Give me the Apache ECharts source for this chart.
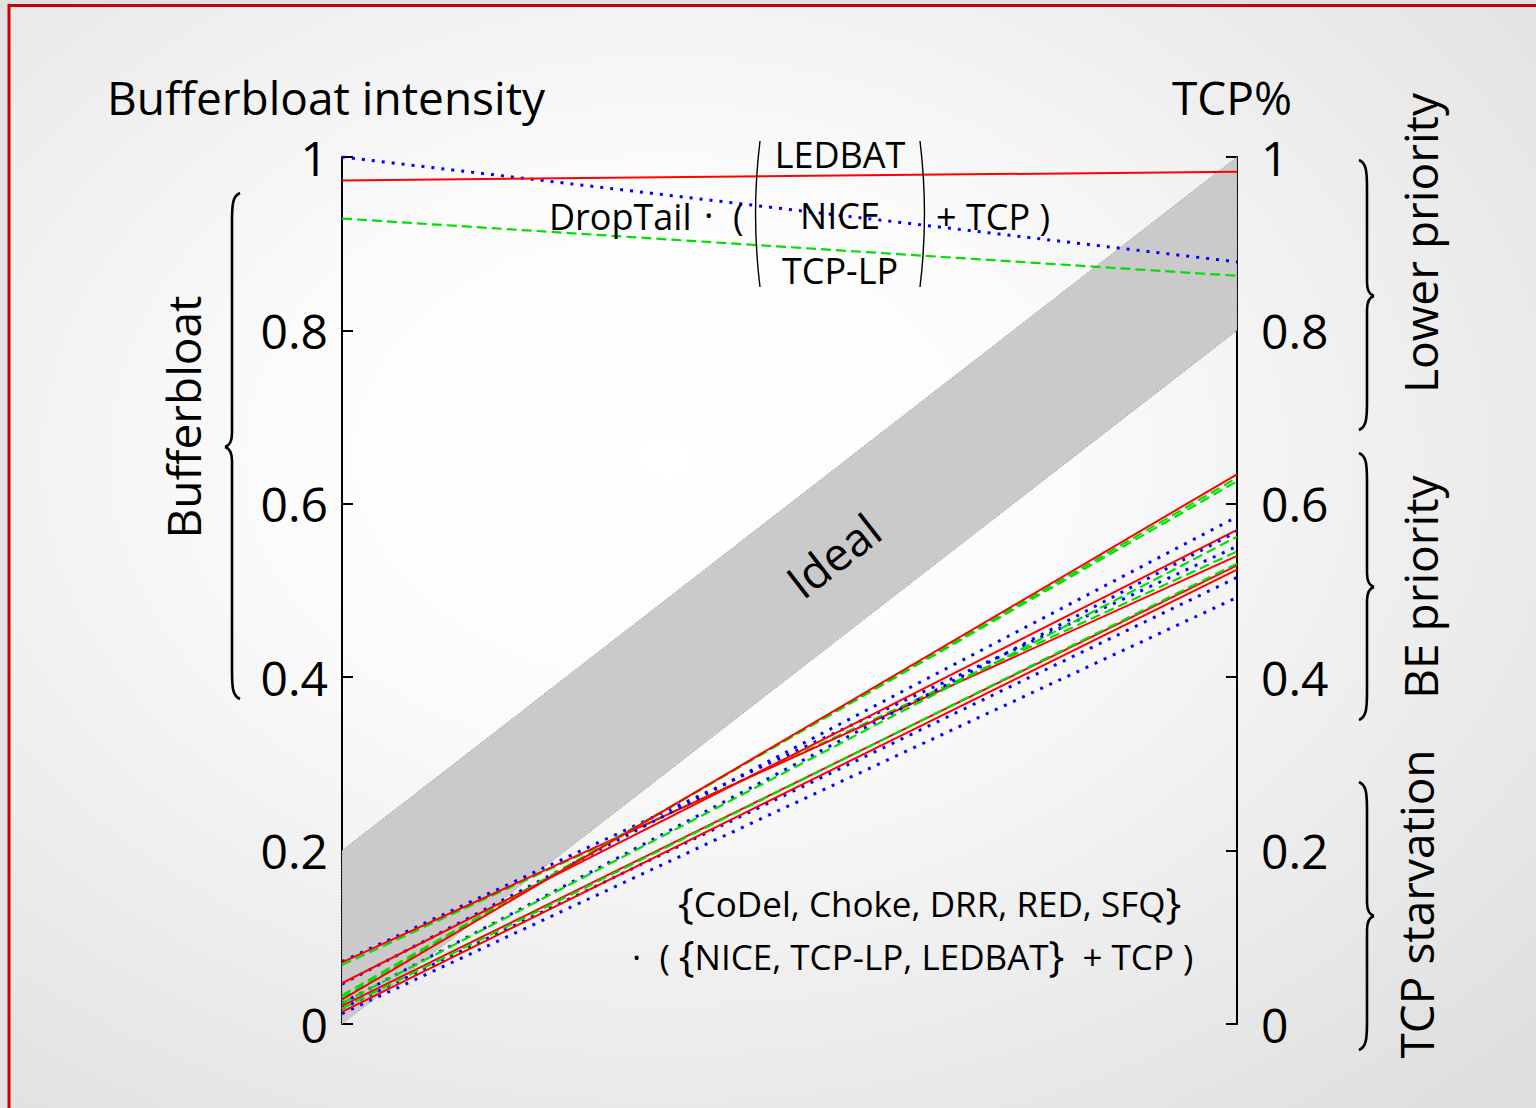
<!DOCTYPE html>
<html><head><meta charset="utf-8">
<script src="https://cdn.jsdelivr.net/npm/echarts@6/dist/echarts.min.js"></script>
<style>html,body{margin:0;padding:0;background:#e2e2e2}#c{width:1536px;height:1108px}</style>
</head><body><div id="c"></div>
<script>
// ---- data ----
const axisTicks = [0, 0.2, 0.4, 0.6, 0.8, 1];
const tickLabels = ['0', '0.2', '0.4', '0.6', '0.8', '1'];
// DropTail lines: red, blue, green
const dropRedLeft = 0.973, dropRedRight = 0.983;
const dropBlueLeft = 1.0, dropBlueRight = 0.879;
const dropGreenLeft = 0.929, dropGreenRight = 0.863;
// AQM lines (left value = bufferbloat intensity, right value = TCP%)
const redLeft = [0.071, 0.047, 0.028, 0.021, 0.014];
const redRight = [0.540, 0.570, 0.634, 0.529, 0.524];
const greenLeft = [0.068, 0.033, 0.030, 0.024, 0.018];
const greenRight = [0.545, 0.626, 0.630, 0.562, 0.531];
const blueLeft = [0.072, 0.046, 0.024, 0.018, 0.012];
const blueRight = [0.551, 0.585, 0.568, 0.515, 0.492];
// Ideal band
const bandLower = [0, 0.8];
const bandUpper = [0.2, 1.0];

// ---- styles ----
const FONT = '"Open Sans", "Noto Sans", sans-serif';
const styles = {
  red: { color: '#ff0000', width: 2, type: 'solid' },
  green: { color: '#00e000', width: 2.2, type: [10, 5] },
  blue: { color: '#0000ff', width: 3, type: [3, 7] }
};

const series = [];
series.push({
  type: 'custom', z: 1, silent: true, data: [[0, 0]],
  renderItem: (params, api) => {
    const pts = [api.coord([0, bandLower[0]]), api.coord([0, bandUpper[0]]),
                 api.coord([1, bandUpper[1]]), api.coord([1, bandLower[1]])];
    return { type: 'polygon', shape: { points: pts },
      style: { fill: '#cacaca', stroke: '#8a8a8a', lineWidth: 1, lineDash: [1, 2] } };
  }
});
function addLine(l, r, st) {
  series.push({ type: 'line', data: [[0, l], [1, r]], showSymbol: false, silent: true,
    lineStyle: st, z: 3, animation: false });
}
for (let i = 0; i < redLeft.length; i++) {
  addLine(blueLeft[i], blueRight[i], styles.blue);
  addLine(greenLeft[i], greenRight[i], styles.green);
  addLine(redLeft[i], redRight[i], styles.red);
}
addLine(dropBlueLeft, dropBlueRight, styles.blue);
addLine(dropGreenLeft, dropGreenRight, styles.green);
addLine(dropRedLeft, dropRedRight, styles.red);

function yAxis(pos, margin) {
  return {
    type: 'value', position: pos, min: 0, max: 1, interval: 0.2,
    axisLine: { show: true, lineStyle: { color: '#000', width: 2 } },
    axisTick: { show: true, inside: true, length: 11, lineStyle: { color: '#000', width: 2 } },
    splitLine: { show: false },
    axisLabel: { fontSize: 48, color: '#000', fontFamily: FONT, margin: margin,
      formatter: v => tickLabels[Math.round(v * 5)] }
  };
}

// ---- text helpers ----
const mctx = document.createElement('canvas').getContext('2d');
function tw(t, size) { mctx.font = size + 'px ' + FONT; return mctx.measureText(t).width; }
function txt(t, x, y, size, align, rot, lh) {
  const o = { type: 'text', x: x, y: y, z: 20, silent: true,
    style: { text: t, fontSize: size, fontFamily: FONT, fill: '#000',
      textAlign: align || 'left', verticalAlign: 'middle' } };
  if (lh) o.style.lineHeight = lh;
  if (rot) o.rotation = rot;
  return o;
}
function segLine(segs, x0, y) {
  const out = []; let x = x0;
  segs.forEach(s => { out.push(txt(s[0], x, y + (s[2] || 0), s[1], 'left', 0, s[1] < 40 ? 36 : 40)); x += tw(s[0], s[1]); });
  return out;
}
const ink = { fill: null, stroke: '#000', lineWidth: 2.6 };
function bz(x1, y1, c1x, c1y, c2x, c2y, x2, y2, st) {
  return { type: 'bezierCurve', z: 20, silent: true,
    shape: { x1: x1, y1: y1, cpx1: c1x, cpy1: c1y, cpx2: c2x, cpy2: c2y, x2: x2, y2: y2 },
    style: st || ink };
}
function ln(x1, y1, x2, y2) {
  return { type: 'line', z: 20, silent: true, shape: { x1: x1, y1: y1, x2: x2, y2: y2 }, style: ink };
}
function brace(x, y0, y1, tip, d) { // d 1: '{' (tip left), -1: '}' (tip right)
  const e = 8 * d, t = -7 * d;
  return [
    bz(x + e, y0, x + d, y0 + 3, x, y0 + 10, x, y0 + 28),
    ln(x, y0 + 28, x, tip - 14),
    bz(x, tip - 14, x, tip - 5, x + t / 2, tip - 1, x + t, tip),
    bz(x + t, tip, x + t / 2, tip + 1, x, tip + 5, x, tip + 14),
    ln(x, tip + 14, x, y1 - 28),
    bz(x, y1 - 28, x, y1 - 10, x + d, y1 - 3, x + e, y1)
  ];
}
const thin = { fill: null, stroke: '#000', lineWidth: 1.4 };

const graphics = [
  { type: 'rect', z: -100, silent: true, shape: { x: 0, y: 0, width: 1536, height: 1108 }, style: { fill: '#e1e1e1' } },
  { type: 'rect', z: -99, silent: true, shape: { x: 9, y: 5.5, width: 1560, height: 1130 },
    style: { fill: new echarts.graphic.RadialGradient(0.42, 0.40, 0.78, [
      { offset: 0, color: '#ffffff' }, { offset: 0.3, color: '#fcfcfc' }, { offset: 1, color: '#dedede' }]),
      stroke: '#cc0000', lineWidth: 3 } },
  txt('Bufferbloat intensity', 107, 97, 46),
  txt('TCP%', 1172, 97, 46),
  txt('Bufferbloat', 183, 417, 46, 'center', Math.PI / 2),
  txt('Lower priority', 1420, 243, 46, 'center', Math.PI / 2),
  txt('BE priority', 1420, 587, 46, 'center', Math.PI / 2),
  txt('TCP starvation', 1416, 904, 46, 'center', Math.PI / 2),
  txt('Ideal', 833, 555, 46, 'center', Math.atan2(0.8 * 867, 895)),
  txt('DropTail', 549, 216, 36),
  txt('\u00b7', 704, 214, 36),
  txt('(', 733, 216, 36),
  txt('LEDBAT', 840, 154, 36, 'center'),
  txt('NICE', 840, 215, 36, 'center'),
  txt('TCP-LP', 840, 270, 36, 'center'),
  txt('+ TCP )', 936, 216, 36),
  bz(760, 141, 754, 190, 754, 238, 760, 287, thin),
  bz(920, 141, 926, 190, 926, 238, 920, 287, thin)
].concat(
  brace(232, 193, 699, 447, 1),
  brace(1367, 160, 430, 296, -1),
  brace(1367, 453, 720, 587, -1),
  brace(1367, 782, 1050, 916, -1),
  segLine([['{', 42, -2], ['CoDel, Choke, DRR, RED, SFQ', 35], ['}', 42, -2]], 678, 903),
  segLine([['\u00b7  ( ', 35], ['{', 42, -2], ['NICE, TCP-LP, LEDBAT', 35], ['}', 42, -2], ['  + TCP )', 35]], 632, 956)
);

const chart = echarts.init(document.getElementById('c'), null, { renderer: 'svg' });
chart.setOption({
  animation: false,
  backgroundColor: 'transparent',
  grid: { left: 342, right: 299, top: 157, bottom: 84, containLabel: false },
  xAxis: { type: 'value', min: 0, max: 1, show: false },
  yAxis: [yAxis('left', 14), yAxis('right', 24)],
  graphic: graphics,
  series: series
});
</script></body></html>
